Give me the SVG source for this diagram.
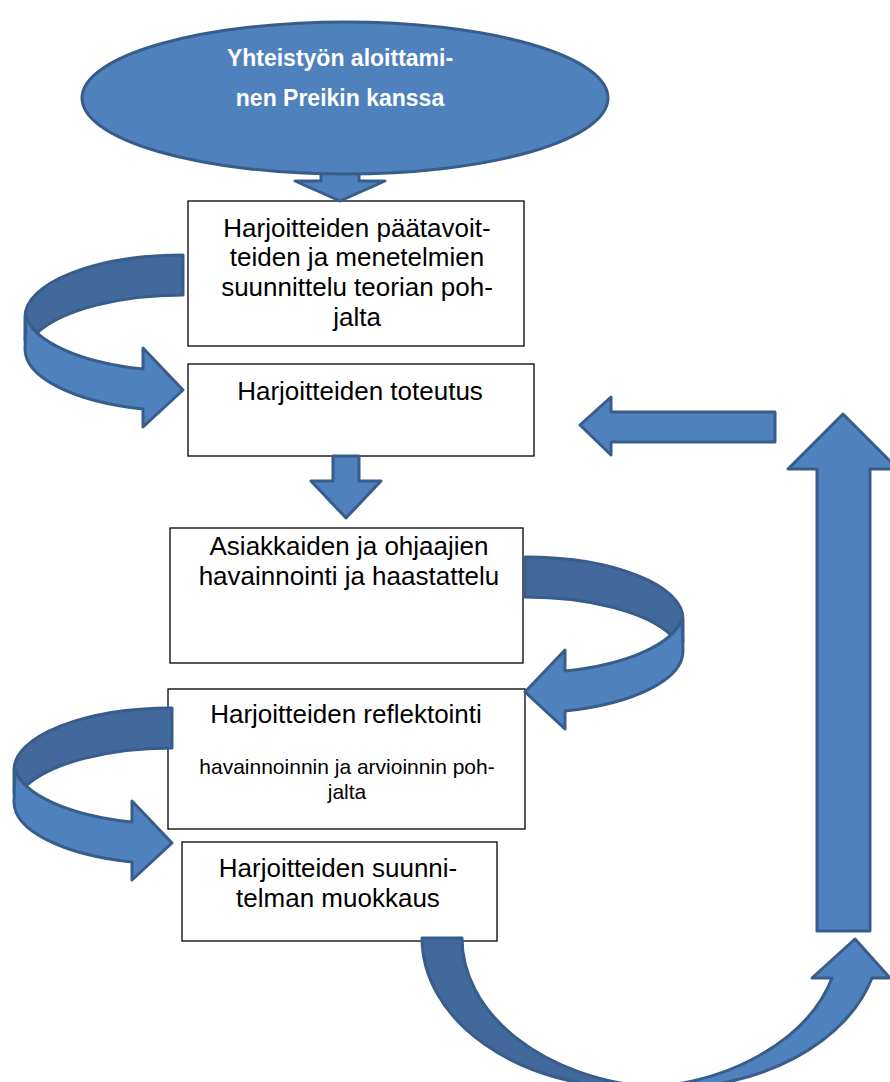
<svg xmlns="http://www.w3.org/2000/svg" width="890" height="1082" viewBox="0 0 890 1082">
<defs>
<style>
.box{fill:#fff;stroke:#000;stroke-width:1.3}
.t{font-family:"Liberation Sans",Arial,sans-serif;font-size:26px;fill:#000;text-anchor:middle}
.ts{font-family:"Liberation Sans",Arial,sans-serif;font-size:21px;fill:#000;text-anchor:middle}
.te{font-family:"Liberation Sans",Arial,sans-serif;font-size:23px;font-weight:bold;fill:#fff;text-anchor:middle}
.ar{fill:#4F81BD;stroke:#385D8A;stroke-width:3;stroke-linejoin:round}
.dk{fill:#41699B;stroke:#385D8A;stroke-width:3;stroke-linejoin:round}
</style>
<g id="curl">
<path class="dk" d="M183,255 A158,62 0 0 0 25,317 L25,340 L37,333 A158,62 0 0 1 183,295 Z"/>
<path class="ar" d="M26,316 A158,62 0 0 0 143,369 L143,348 L183,390 L143,427 L143,409 A158,62 0 0 1 25,349 Z"/>
</g>
</defs>
<g id="n1"><rect class="box" x="188" y="201" width="336" height="145"/>
<text class="t" x="357" y="237">Harjoitteiden päätavoit-</text>
<text class="t" x="357" y="266">teiden ja menetelmien</text>
<text class="t" x="357" y="296">suunnittelu teorian poh-</text>
<text class="t" x="357" y="326">jalta</text></g>
<g id="n2"><rect class="box" x="188" y="364" width="346" height="92"/>
<text class="t" x="360" y="400">Harjoitteiden toteutus</text></g>
<g id="n3"><rect class="box" x="170" y="528" width="353" height="135"/>
<text class="t" x="349" y="555">Asiakkaiden ja ohjaajien</text>
<text class="t" x="349" y="585">havainnointi ja haastattelu</text></g>
<g id="n4"><rect class="box" x="168" y="689" width="357" height="140"/>
<text class="t" x="346" y="723">Harjoitteiden reflektointi</text>
<text class="ts" x="347" y="774">havainnoinnin ja arvioinnin poh-</text>
<text class="ts" x="347" y="799">jalta</text></g>
<g id="n5"><rect class="box" x="182" y="842" width="315" height="99"/>
<text class="t" x="338" y="877">Harjoitteiden suunni-</text>
<text class="t" x="338" y="907">telman muokkaus</text></g>
<g id="connectors">
<path class="ar" d="M321,160 L359,160 L359,181 L385,181 L340,201 L295,181 L321,181 Z"/>
<path class="ar" d="M333,456 L359,456 L359,481 L381,481 L346,518 L311,481 L333,481 Z"/>
<path class="ar" d="M775,412 L775,442 L611,442 L611,455 L580,425 L611,397 L611,412 Z"/>
<path class="ar" d="M817,931 L870,931 L870,469 L898,469 L843,414 L788,469 L817,469 Z"/>
<use href="#curl"/>
<use href="#curl" transform="translate(708,302) scale(-1,1)"/>
<use href="#curl" transform="translate(-11,453)"/>
<path class="dk" d="M422,938 A213,150 0 0 0 635,1088 L651,1087 A213,150 0 0 1 462,938 Z"/>
<path class="ar" d="M636,1088 A213,150 0 0 0 832,978 L812,978 L855,939 L890,978 L872,978 A213,150 0 0 1 667,1088 Z"/>
</g>
<g id="n0"><ellipse cx="345" cy="98" rx="263" ry="76" fill="#4F81BD" stroke="#385D8A" stroke-width="3"/>
<text class="te" x="340" y="66">Yhteistyön aloittami-</text>
<text class="te" x="340" y="106">nen Preikin kanssa</text></g>
</svg>
